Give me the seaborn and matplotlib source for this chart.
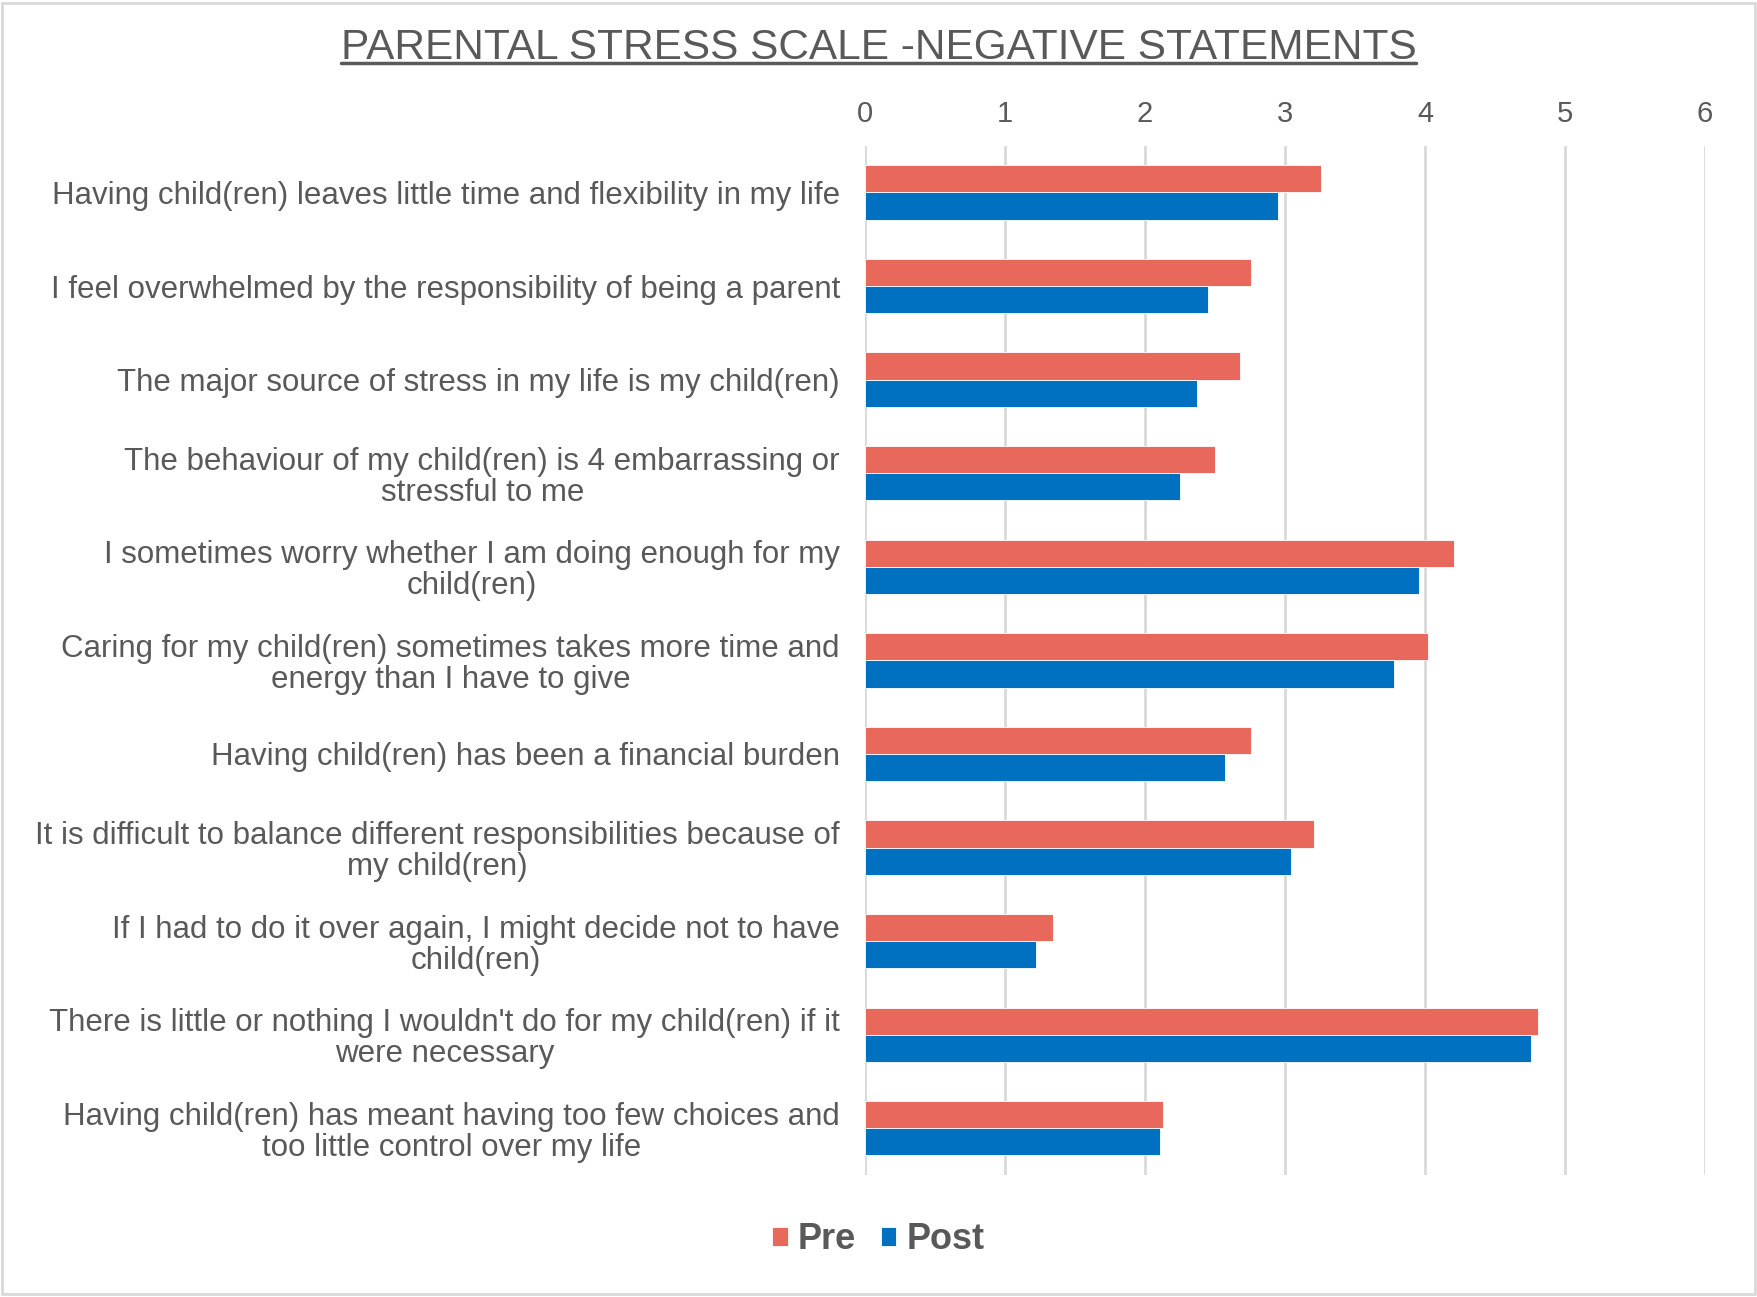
import pandas as pd
import matplotlib.pyplot as plt
import seaborn as sns
from matplotlib.lines import Line2D
from matplotlib.patches import Rectangle

# -----------------------------
# Data
# -----------------------------
statements = [
    "Having child(ren) leaves little time and flexibility in my life",
    "I feel overwhelmed by the responsibility of being a parent",
    "The major source of stress in my life is my child(ren)",
    "The behaviour of my child(ren) is 4 embarrassing or\nstressful to me",
    "I sometimes worry whether I am doing enough for my\nchild(ren)",
    "Caring for my child(ren) sometimes takes more time and\nenergy than I have to give",
    "Having child(ren) has been a financial burden",
    "It is difficult to balance different responsibilities because of\nmy child(ren)",
    "If I had to do it over again, I might decide not to have\nchild(ren)",
    "There is little or nothing I wouldn't do for my child(ren) if it\nwere necessary",
    "Having child(ren) has meant having too few choices and\ntoo little control over my life",
]
pre_scores = [3.26, 2.76, 2.68, 2.50, 4.21, 4.02, 2.76, 3.21, 1.34, 4.81, 2.13]
post_scores = [2.95, 2.45, 2.37, 2.25, 3.96, 3.78, 2.57, 3.04, 1.22, 4.76, 2.11]
phases = ["Pre", "Post"]
x_ticks = [0, 1, 2, 3, 4, 5, 6]

df = pd.DataFrame({
    "statement": statements * 2,
    "score": pre_scores + post_scores,
    "phase": [phases[0]] * len(statements) + [phases[1]] * len(statements),
})

# -----------------------------
# Style
# -----------------------------
sns.set_style("white")
plt.rcParams["font.family"] = ["Liberation Sans", "DejaVu Sans"]
TEXT = "#595959"
GRID = "#d9d9d9"
colors = {"Pre": "#E8695C", "Post": "#0070C0"}

fig = plt.figure(figsize=(17.57, 12.97), dpi=100)
ax = fig.add_axes([0.4923, 0.094, 0.9704 - 0.4923, 0.8877 - 0.094])

sns.barplot(
    data=df, y="statement", x="score", hue="phase", orient="h",
    palette=colors, saturation=1, width=0.58, edgecolor="white", linewidth=0.6,
    ax=ax, legend=True,
)

ax.set_xlim(0, 6)
ax.set_ylim(len(statements) - 0.5, -0.5)
ax.set_xticks(x_ticks)
ax.xaxis.tick_top()
ax.tick_params(axis="x", length=0, pad=13, labelsize=21, labelcolor=TEXT)
ax.tick_params(axis="y", length=0, pad=18, labelsize=22.5, labelcolor=TEXT)
for lbl in ax.get_yticklabels():
    lbl.set_multialignment("center")
    lbl.set_linespacing(1.05)
ax.set_xlabel("")
ax.set_ylabel("")
ax.grid(axis="x", color=GRID, linewidth=2)
ax.set_axisbelow(True)
for s in ax.spines.values():
    s.set_visible(False)

# legend centred below the plot
handles, labels = ax.get_legend_handles_labels()
ax.legend(
    handles, labels, loc="center", bbox_to_anchor=(0.5, 0.044),
    bbox_transform=fig.transFigure, ncol=2, frameon=False,
    prop={"weight": "bold", "size": 26}, labelcolor=TEXT,
    handlelength=0.42, handleheight=0.42, handletextpad=0.28, columnspacing=0.7,
)

# underlined title
title = fig.text(0.5, 0.963, "PARENTAL STRESS SCALE -NEGATIVE STATEMENTS",
                 ha="center", va="center", fontsize=30.5, color=TEXT)
fig.canvas.draw()
bb = title.get_window_extent().transformed(fig.transFigure.inverted())
fig.add_artist(Line2D([bb.x0, bb.x1], [bb.y0 + 0.004, bb.y0 + 0.004],
                      color=TEXT, linewidth=2.5, transform=fig.transFigure))

# chart border
fig.add_artist(Rectangle((0.001, 0.002), 0.998, 0.996, transform=fig.transFigure,
                         fill=False, edgecolor=GRID, linewidth=2))

fig.savefig("out.png", dpi=100)
plt.close(fig)
